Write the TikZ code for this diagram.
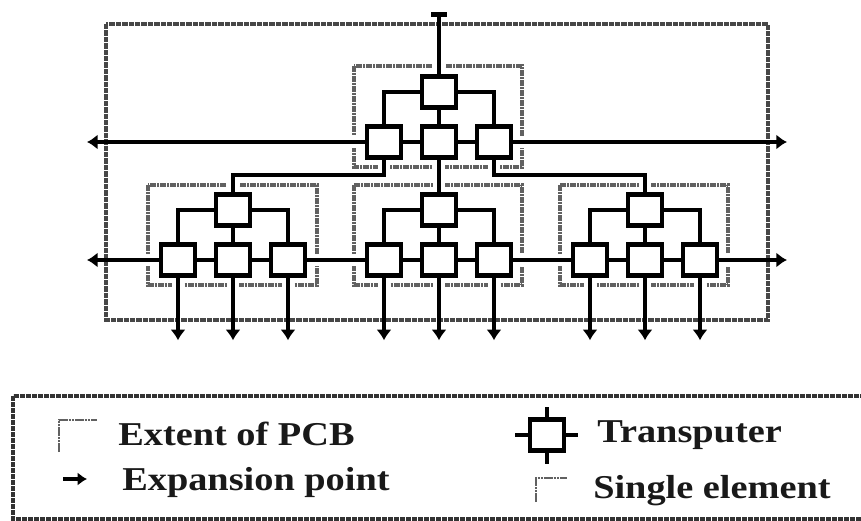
\documentclass[tikz,border=0pt]{standalone}
\usepackage{fontspec}
\setmainfont{Liberation Serif}[BoldFeatures={FakeStretch=1.15}]
\usetikzlibrary{arrows.meta,backgrounds}
\tikzset{
  x=0.75pt,y=-0.75pt,
  tbox/.style={draw=black,line width=3.4pt,fill=white,minimum width=25.5pt,minimum height=23pt,inner sep=0pt,outer sep=0pt},
  link/.style={draw=black,line width=3.4pt},
  halo/.style={draw=white,line width=9pt},
  expand/.style={-{Latex[length=8pt,width=11.5pt]}},
  zone/.style={draw=black!62,line width=2.8pt,dash pattern=on 2pt off 0.5pt},
  keyzone/.style={draw=black!62,line width=2pt,dash pattern=on 2pt off 0.4pt},
  pcb/.style={draw=black!72,line width=3pt,dash pattern=on 4pt off 0.8pt},
  legframe/.style={draw=black!80,line width=2.8pt,dash pattern=on 4pt off 0.5pt},
  legtext/.style={font=\bfseries\fontsize{25}{27}\selectfont,anchor=base west,inner sep=0pt,text=black!90},
}
\newcommand{\element}[4]{%
  \node[tbox] (#1t) at (#2,#3) {};
  \node[tbox] (#1l) at (#2-55,#4) {};
  \node[tbox] (#1m) at (#2,#4) {};
  \node[tbox] (#1r) at (#2+55,#4) {};
}
\begin{document}
\begin{tikzpicture}
\useasboundingbox (0,0) rectangle (861,521);
\element{A}{439}{92}{142}
\element{B}{233}{210}{260}
\element{C}{439}{210}{260}
\element{D}{645}{210}{260}
\coordinate (topend) at (439,12);
\coordinate (lu) at (87,142);
\coordinate (ru) at (787,142);
\coordinate (ll) at (87,260);
\coordinate (rl) at (787,260);
\coordinate (bus) at (0,175);
\foreach \e in {B,C,D} \foreach \p in {l,m,r} {
  \path (\e\p.south) -- ++(0,65) coordinate (\e\p d);
}
\begin{scope}[on background layer]
  \draw[zone] (354,66) rectangle (522,167);
  \draw[zone] (148,185) rectangle (317,285);
  \draw[zone] (354,185) rectangle (522,285);
  \draw[zone] (560,185) rectangle (728,285);
  \draw[halo] (topend) -- (At.north);
  \draw[halo] (Al.west) -- (lu);
  \draw[halo] (Ar.east) -- (ru);
  \draw[halo] (Bl.west) -- (ll);
  \draw[halo] (Dr.east) -- (rl);
  \draw[halo] (Br.east) -- (Cl.west);
  \draw[halo] (Cr.east) -- (Dl.west);
  \draw[halo] (Am.south) -- (Ct.north);
  \draw[halo] (Al.south) |- (bus -| Bt.north) -- (Bt.north);
  \draw[halo] (Ar.south) |- (bus -| Dt.north) -- (Dt.north);
  \foreach \e in {B,C,D} \foreach \p in {l,m,r} \draw[halo] (\e\p.south) -- (\e\p d);
  \draw[pcb] (106,24) rectangle (768,320);
\end{scope}
\foreach \e in {A,B,C,D} {
  \draw[link] (\e t.west) -| (\e l.north);
  \draw[link] (\e t.east) -| (\e r.north);
  \draw[link] (\e t.south) -- (\e m.north);
  \draw[link] (\e l.east) -- (\e m.west);
  \draw[link] (\e m.east) -- (\e r.west);
}
\draw[link,{Bar[width=12pt,length=0pt]}-] (topend) -- (At.north);
\draw[link,expand] (Al.west) -- (lu);
\draw[link,expand] (Ar.east) -- (ru);
\draw[link,expand] (Bl.west) -- (ll);
\draw[link,expand] (Dr.east) -- (rl);
\draw[link] (Br.east) -- (Cl.west);
\draw[link] (Cr.east) -- (Dl.west);
\draw[link] (Am.south) -- (Ct.north);
\draw[link] (Al.south) |- (bus -| Bt.north) -- (Bt.north);
\draw[link] (Ar.south) |- (bus -| Dt.north) -- (Dt.north);
\foreach \e in {B,C,D} \foreach \p in {l,m,r} \draw[link,expand] (\e\p.south) -- (\e\p d);
% legend
\begin{scope}
  \clip (0,385) rectangle (861,521);
  \draw[legframe] (13,396) rectangle (880,519);
\end{scope}
\draw[keyzone] (59,452) -- (59,420) -- (97,420);
\draw[keyzone] (536,502) -- (536,478) -- (567,478);
\node[legtext] (t1) at (118,445) {Extent of PCB};
\node[legtext] (t2) at (122,490) {Expansion point};
\node[legtext] (t3) at (597,442) {Transputer};
\node[legtext] (t4) at (593,498) {Single element};
\coordinate (ka) at (63,479);
\coordinate (kb) at (87,479);
\draw[link,-{Latex[length=7pt,width=10pt]}] (ka) -- (kb);
\node[tbox] (key) at (547,435) {};
\coordinate (kn) at (547,407);
\coordinate (ks) at (547,464);
\coordinate (kw) at (515,435);
\coordinate (ke) at (578,435);
\draw[link] (key.north) -- (kn);
\draw[link] (key.south) -- (ks);
\draw[link] (key.west) -- (kw);
\draw[link] (key.east) -- (ke);
\end{tikzpicture}
\end{document}
